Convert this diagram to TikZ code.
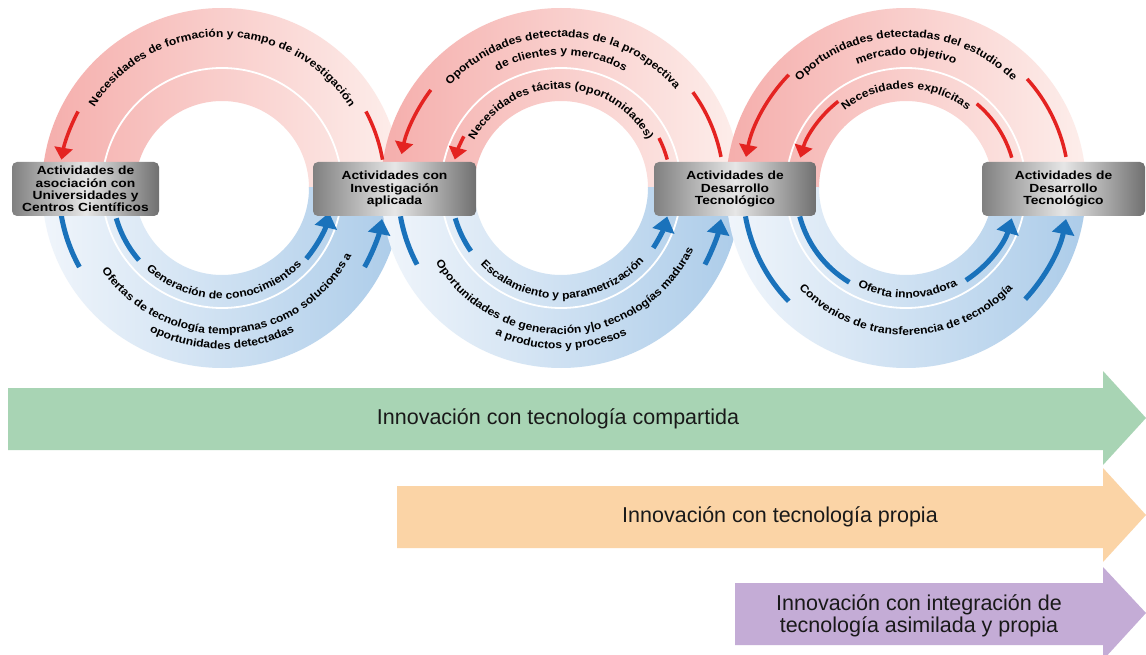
\documentclass[tikz,border=0pt]{standalone}
\usepackage{fontspec}
\setmainfont{Liberation Sans}
\newfontfamily\widesans[FakeStretch=1.17]{Liberation Sans}
\newfontfamily\arcsans[FakeStretch=1.1]{Liberation Sans}
\usetikzlibrary{arrows.meta,decorations.text,calc}

\definecolor{pinkL}{RGB}{245,174,172}
\definecolor{pinkR}{RGB}{253,238,235}
\definecolor{blueL}{RGB}{240,245,251}
\definecolor{blueR}{RGB}{172,204,233}
\definecolor{redA}{RGB}{228,35,33}
\definecolor{blueA}{RGB}{26,114,187}
\definecolor{boxD}{RGB}{128,128,128}
\definecolor{boxM}{RGB}{230,230,230}
\definecolor{boxR}{RGB}{112,112,112}
\definecolor{greenA}{RGB}{168,212,180}
\definecolor{orangeA}{RGB}{251,212,166}
\definecolor{purpleA}{RGB}{196,172,214}
\definecolor{txt}{RGB}{25,25,25}

\newcommand\arcfont{\arcsans\bfseries\fontsize{11}{13}\selectfont}

\newcommand\arctext[5]{%
  \path[decorate, decoration={text along path, text format delimiters={[}{]},
    text align=center, text={[\arcfont]#5}}]
    ($(#1)+(#3:#2)$) arc[start angle=#3, end angle=#4, radius=#2];}
\newcommand\arcseg[5]{%
  \draw[#1] ($(#2)+(#3:#5)$) arc[start angle=#3, end angle=#4, radius=#5];}
\newcommand\ringfill[1]{%
  \begin{scope}
    \clip ($(#1)+(-185pt,0pt)$) rectangle ($(#1)+(185pt,185pt)$);
    \shade[even odd rule, left color=pinkL, right color=pinkR]
      (#1) circle[radius=180pt] (#1) circle[radius=87pt];
  \end{scope}
  \begin{scope}
    \clip ($(#1)+(-185pt,0pt)$) rectangle ($(#1)+(185pt,-185pt)$);
    \shade[even odd rule, left color=blueL, right color=blueR]
      (#1) circle[radius=180pt] (#1) circle[radius=87pt];
  \end{scope}
  \draw[white, line width=1.8pt] (#1) circle[radius=120pt];}

\tikzset{
  redarr/.style={draw=redA, line width=3.5pt, -{Triangle[width=18pt,length=12pt]}},
  redline/.style={draw=redA, line width=3.5pt},
  bluearr/.style={draw=blueA, line width=5pt, -{Triangle[width=22pt,length=15pt]}},
  blueline/.style={draw=blueA, line width=5pt},
  actbox/.style={rounded corners=5pt, left color=boxD, right color=boxR, middle color=boxM,
    align=center, inner sep=0pt, text=black,
    font=\widesans\bfseries\fontsize{11.8}{12.2}\selectfont, minimum height=54pt},
  bigtext/.style={font=\fontsize{21.5}{22}\selectfont, text=txt, align=center, inner sep=0pt},
}

\begin{document}
\begin{tikzpicture}[x=1pt,y=-1pt]
\useasboundingbox (0,0) rectangle (1146,655);
\fill[white] (0,0) rectangle (1146,655);

\coordinate (c1) at (222,188);
\coordinate (c2) at (561,188);
\coordinate (c3) at (906,188);

\ringfill{c1}
\ringfill{c2}
\ringfill{c3}

% ring 1
\arcseg{redline}{c1}{10}{28}{163pt}
\arcseg{redarr}{c1}{152}{170}{163pt}
\arcseg{blueline}{c1}{196}{221}{110pt}
\arcseg{bluearr}{c1}{320}{347}{110pt}
\arcseg{blueline}{c1}{189}{209}{163pt}
\arcseg{bluearr}{c1}{331}{349}{163pt}
\arctext{c1}{151pt}{178}{2}{Necesidades de formación y campo de investigación}
\arctext{c1}{111pt}{200}{343}{Generación de conocimientos}
\arctext{c1}{146pt}{190}{357}{Ofertas de tecnología tempranas como soluciones a}
\arctext{c1}{161pt}{200}{340}{oportunidades detectadas}

% ring 2
\arcseg{redline}{c2}{11}{36}{163pt}
\arcseg{redarr}{c2}{143}{168}{163pt}
\arcseg{redline}{c2}{15}{27}{110pt}
\arcseg{redarr}{c2}{152}{165}{110pt}
\arcseg{blueline}{c2}{196}{215}{110pt}
\arcseg{bluearr}{c2}{327}{345}{110pt}
\arcseg{blueline}{c2}{190}{208}{163pt}
\arcseg{bluearr}{c2}{332}{349}{163pt}
\arctext{c2}{151pt}{178}{0}{Oportunidades detectadas de la prospectiva}
\arctext{c2}{133pt}{178}{2}{de clientes y mercados}
\arctext{c2}{99pt}{178}{2}{Necesidades tácitas (oportunidades)}
\arctext{c2}{111pt}{200}{342}{Escalamiento y parametrización}
\arctext{c2}{146pt}{190}{356}{Oportunidades de generación y|o tecnologías maduras}
\arctext{c2}{161pt}{200}{340}{a productos y procesos}

% ring 3
\arcseg{redline}{c3}{11}{42}{163pt}
\arcseg{redarr}{c3}{136}{169}{163pt}
\arcseg{redline}{c3}{16}{50}{110pt}
\arcseg{redarr}{c3}{128}{164}{110pt}
\arcseg{blueline}{c3}{195}{239}{110pt}
\arcseg{bluearr}{c3}{303}{344}{110pt}
\arcseg{blueline}{c3}{190}{224}{163pt}
\arcseg{bluearr}{c3}{317}{349}{163pt}
\arctext{c3}{151pt}{178}{2}{Oportunidades detectadas del estudio de}
\arctext{c3}{133pt}{178}{2}{mercado objetivo}
\arctext{c3}{99pt}{178}{2}{Necesidades explícitas}
\arctext{c3}{110pt}{200}{342}{Oferta innovadora}
\arctext{c3}{147pt}{190}{350}{Convenios de transferencia de tecnología}

% boxes
\node[actbox, minimum width=147pt] (b1) at (85.5,189) {Actividades de\\asociación con\\Universidades y\\Centros Científicos};
\node[actbox, minimum width=163pt] (b2) at (394.5,189) {Actividades con\\Investigación\\aplicada};
\node[actbox, minimum width=162pt] (b3) at (735,189) {Actividades de\\Desarrollo\\Tecnológico};
\node[actbox, minimum width=163pt] (b4) at (1063.5,189) {Actividades de\\Desarrollo\\Tecnológico};

% big arrows
\fill[greenA] (8,388) -- (1103,388) -- (1103,371) -- (1146,418) -- (1103,465) -- (1103,450) -- (8,450) -- cycle;
\fill[orangeA] (397,486) -- (1103,486) -- (1103,468) -- (1146,515) -- (1103,562) -- (1103,548) -- (397,548) -- cycle;
\fill[purpleA] (735,583) -- (1103,583) -- (1103,567) -- (1146,613) -- (1103,660) -- (1103,645) -- (735,645) -- cycle;
\node[bigtext] (tg) at (558,419) {Innovación con tecnología compartida};
\node[bigtext] (to) at (780,517) {Innovación con tecnología propia};
\node[bigtext] (tp) at (919,616) {Innovación con integración de\\tecnología asimilada y propia};
\end{tikzpicture}
\end{document}
